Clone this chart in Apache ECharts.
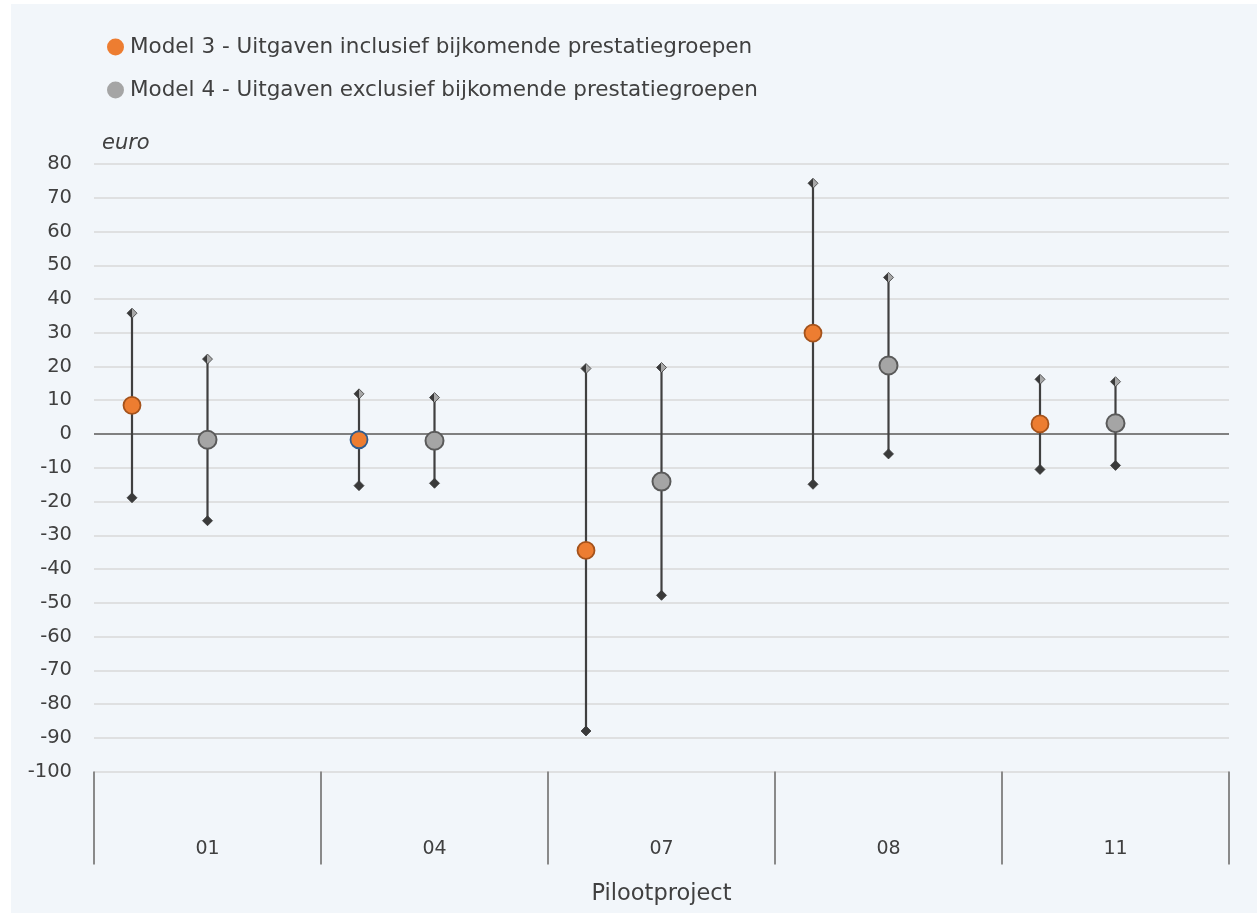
<!DOCTYPE html>
<html>
<head>
<meta charset="utf-8">
<script src="https://cdn.jsdelivr.net/npm/echarts@6/dist/echarts.min.js"></script>
<style>
  html, body { margin: 0; padding: 0; background: #ffffff; }
  #bg { position: absolute; left: 11px; top: 4px; width: 1246px; height: 909px; background: #F2F6FA; }
  #chart { position: absolute; left: 0; top: 0; width: 1257px; height: 913px; }
</style>
</head>
<body>
<div id="bg"></div>
<div id="chart"></div>
<script>
const categories = ['01', '04', '07', '08', '11'];
const seriesNames = [
  'Model 3 - Uitgaven inclusief bijkomende prestatiegroepen',
  'Model 4 - Uitgaven exclusief bijkomende prestatiegroepen'
];
const model3Values = [8.5, -1.7, -34.5, 29.9, 3.0];
const model3Low = [-18.9, -15.3, -88.0, -14.9, -10.5];
const model3High = [35.8, 11.9, 19.4, 74.3, 16.2];
const model4Values = [-1.7, -2.0, -14.1, 20.3, 3.2];
const model4Low = [-25.7, -14.6, -47.8, -5.9, -9.3];
const model4High = [22.2, 10.8, 19.7, 46.4, 15.5];
const yMin = -100, yMax = 80, yStep = 10;
const yUnit = 'euro';
const xName = 'Pilootproject';

const FONT = 'DejaVu Sans';
const TXT = '#404040';
const OFF3 = 38 / 227, OFF4 = 0.5;

function pts(values, off) { return values.map((v, i) => [i + off, v]); }
function bars(low, high, off) { return low.map((l, i) => [i + off, l, high[i]]); }

function diamond(cx, cy, r, fill) {
  return { type: 'polygon', shape: { points: [[cx, cy - r], [cx + r, cy], [cx, cy + r], [cx - r, cy]] },
           style: { fill: fill, stroke: '#3a3a3a', lineWidth: 0.8 } };
}
function renderBar(params, api) {
  const lo = api.coord([api.value(0), api.value(1)]);
  const hi = api.coord([api.value(0), api.value(2)]);
  const topFill = new echarts.graphic.LinearGradient(0, 0, 1, 0, [
    { offset: 0, color: '#3a3a3a' }, { offset: 0.5, color: '#3a3a3a' },
    { offset: 0.5, color: '#a8a8a8' }, { offset: 1, color: '#a8a8a8' }]);
  return { type: 'group', children: [
    { type: 'line', shape: { x1: lo[0], y1: lo[1], x2: hi[0], y2: hi[1] }, style: { stroke: '#404040', lineWidth: 2.2 } },
    diamond(hi[0], hi[1], 5, topFill),
    diamond(lo[0], lo[1], 5, '#3a3a3a')
  ]};
}

const m3Data = pts(model3Values, OFF3).map((d, i) => i === 1
  ? { value: d, itemStyle: { borderColor: '#2F5C8F' } } : d);

const chart = echarts.init(document.getElementById('chart'));
chart.setOption({
  backgroundColor: 'transparent',
  animation: false,
  textStyle: { fontFamily: FONT, color: TXT },
  legend: {
    orient: 'vertical', left: 102, top: 31, itemGap: 21,
    icon: 'circle', itemWidth: 17, itemHeight: 17,
    itemStyle: { borderWidth: 0 },
    textStyle: { fontFamily: FONT, fontSize: 21.5, color: TXT, padding: [0, 0, 0, 1] },
    data: seriesNames
  },
  graphic: [{ type: 'text', left: 102, top: 133, style: { text: yUnit, font: 'italic 21px "DejaVu Sans"', fill: TXT } }],
  grid: { left: 94, right: 28, top: 164, bottom: 141.5, containLabel: false },
  xAxis: [{
    type: 'category', data: categories, boundaryGap: true, position: 'bottom',
    axisLine: { show: false, onZero: false },
    axisTick: { show: true, length: 93, lineStyle: { color: '#8a8a8a', width: 2 } },
    axisLabel: { margin: 68, fontSize: 19, color: TXT, fontFamily: FONT },
    name: xName, nameLocation: 'middle', nameGap: 111,
    nameTextStyle: { fontSize: 22.5, color: TXT, fontFamily: FONT },
    splitLine: { show: false }
  }, {
    type: 'value', min: 0, max: 5, show: false, position: 'bottom',
    axisLine: { onZero: false }
  }],
  yAxis: {
    type: 'value', min: yMin, max: yMax, interval: yStep,
    axisLine: { show: false }, axisTick: { show: false },
    axisLabel: { margin: 22, fontSize: 19.5, color: TXT, fontFamily: FONT },
    splitLine: { lineStyle: { color: '#d9d9d9', width: 1.5 } }
  },
  series: [
    { type: 'custom', xAxisIndex: 1, renderItem: renderBar, data: bars(model3Low, model3High, OFF3), silent: true, z: 3,
      markLine: { silent: true, symbol: 'none', label: { show: false }, lineStyle: { color: '#808080', width: 2, type: 'solid' },
                  data: [{ yAxis: 0 }], z: 2 } },
    { type: 'custom', xAxisIndex: 1, renderItem: renderBar, data: bars(model4Low, model4High, OFF4), silent: true, z: 3 },
    { name: seriesNames[0], type: 'scatter', xAxisIndex: 1, symbol: 'circle', symbolSize: 17, z: 5,
      itemStyle: { color: '#ED7D31', borderColor: '#A4521B', borderWidth: 1.8, opacity: 1 }, data: m3Data },
    { name: seriesNames[1], type: 'scatter', xAxisIndex: 1, symbol: 'circle', symbolSize: 18, z: 5,
      itemStyle: { color: '#A5A5A5', borderColor: '#5a5a5a', borderWidth: 2, opacity: 1 }, data: pts(model4Values, OFF4) }
  ]
});
</script>
</body>
</html>
